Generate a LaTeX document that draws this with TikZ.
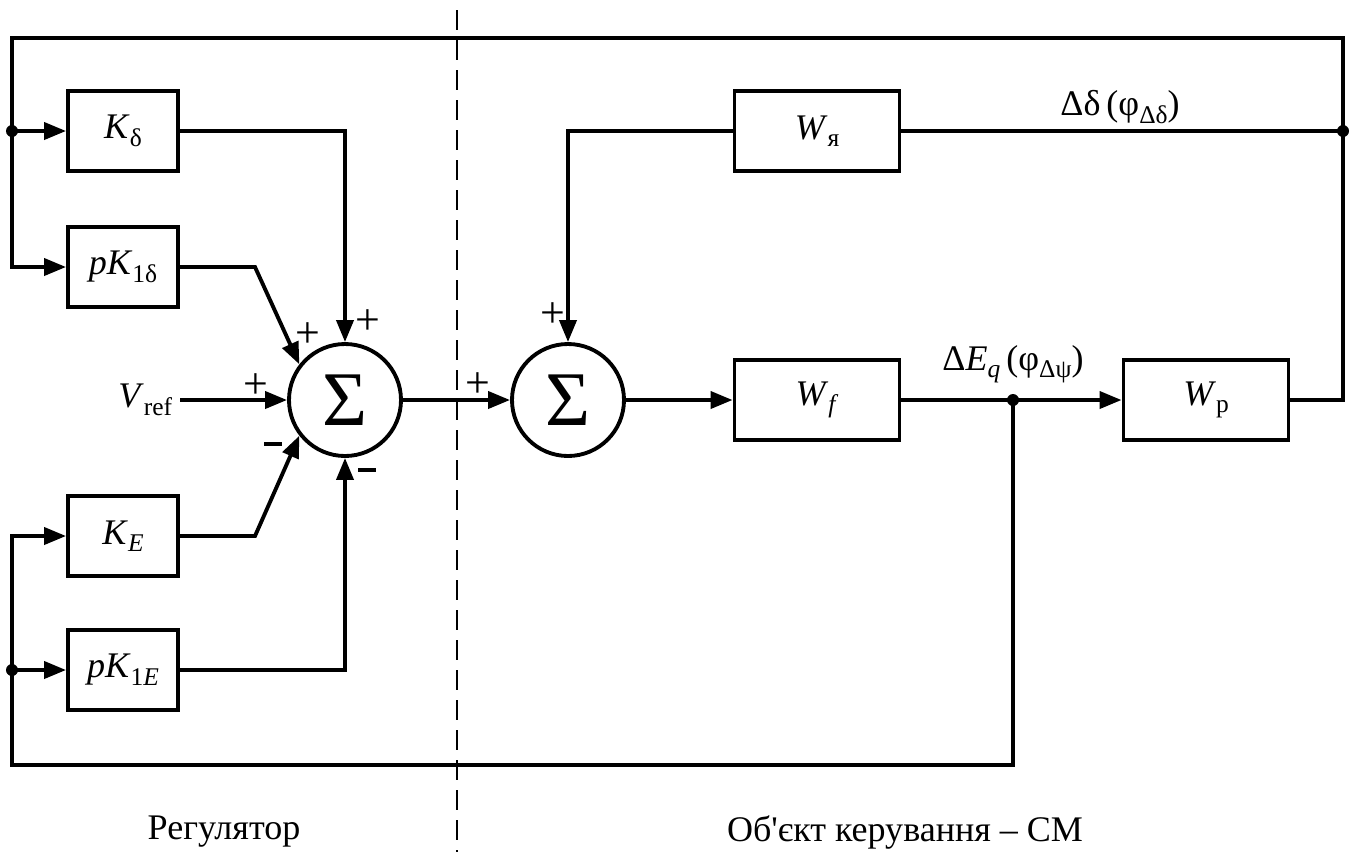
\documentclass[tikz,border=0pt]{standalone}
\usepackage{fontspec}
\setmainfont{Liberation Serif}
\usetikzlibrary{arrows.meta,positioning}
\tikzset{
  block/.style={rectangle, draw, line width=2.2pt, minimum width=22mm, minimum height=16mm,
                inner sep=0pt, font=\fontsize{20.5}{24}\selectfont},
  wideblock/.style={block, minimum width=33mm},
  summer/.style={circle, draw, line width=2.2pt, minimum size=22.4mm, inner sep=0pt,
                 font=\fontsize{44}{44}\selectfont},
  arrow/.style={-{Triangle[length=4.4mm,width=3.4mm]}, line width=2.2pt},
  wire/.style={line width=2.2pt},
  divider/.style={line width=0.9pt, dash pattern=on 4mm off 2mm},
  sign/.style={font=\fontsize{25}{25}\selectfont, inner sep=0pt},
  label/.style={font=\fontsize{20.5}{24}\selectfont, inner sep=0pt},
}
\newcommand{\lo}[1]{\raisebox{-0.45ex}{\fontsize{14.5}{14.5}\selectfont #1}}
\newcommand{\minussign}{\rule{3.6mm}{0.75mm}}

\begin{document}
\begin{tikzpicture}[x=0.2mm, y=-0.2mm]
\useasboundingbox (0,0) rectangle (1355,852);

% ---- Regulator ----
\node[block] (kd) at (123,131) {\textit{K}\lo{δ}};
\node[block] (pkd) at (123,267) {\textit{pK}\lo{1δ}};
\node[block] (ke) at (123,536) {\textit{K}\lo{\textit{E}}};
\node[block] (pke) at (123,670) {\textit{pK}\lo{1\textit{E}}};
\node[summer] (sum1) at (345,400) {Σ};
\node[label, anchor=east, inner sep=1.5mm] (vref) at (180,400) {\textit{V}\lo{ref}};

% ---- Plant ----
\node[summer] (sum2) at (568,400) {Σ};
\node[wideblock] (wya) at (817,131) {\textit{W}\lo{я}};
\node[wideblock] (wf) at (817,400) {\textit{W}\lo{\textit{f}}};
\node[wideblock] (wp) at (1206,400) {\textit{W}\lo{р}};

% ---- Corners and junctions ----
\coordinate (tl) at (12,38);
\coordinate (tr) at (1343,38);
\coordinate (jl) at (12,131);
\coordinate (jd) at (1343,131);
\coordinate (jeq) at (1013,400);
\coordinate (br) at (1013,765);
\coordinate (bl) at (12,765);
\coordinate (jb) at (12,670);
\coordinate (bend1) at (255,267);
\coordinate (bend2) at (255,536);
\coordinate (dtop) at (457,10);
\coordinate (dbot) at (457,852);

% ---- Signs ----
\node[sign] (s1a) at (308,335) {+};
\node[sign] (s1b) at (368,322) {+};
\node[sign] (s1c) at (256,386) {+};
\node[sign] (s1d) at (273,444) {\minussign};
\node[sign] (s1e) at (367,470) {\minussign};
\node[sign] (s2a) at (478,385) {+};
\node[sign] (s2b) at (553,315) {+};

% ---- Labels ----
\node[label] (dd) at (1120,107) {Δδ\,(φ\lo{Δδ})};
\node[label] (deq) at (1013,364) {Δ\textit{E}\lo{\textit{q}}\,(φ\lo{Δψ})};
\node[label] (reg) at (224,832) {Регулятор};
\node[label] (obj) at (905,832) {Об\textquotesingle єкт керування – СМ};

% ---- Connections ----
\draw[arrow] (wp.east) -| (tr) -- (tl) |- (pkd.west);
\draw[arrow] (jl) -- (kd.west);
\draw[wire] (wya.east) -- (jd);
\draw[arrow] (wya.west) -| (sum2.north);
\draw[arrow] (kd.east) -| (sum1.north);
\draw[arrow] (pkd.east) -- (bend1) -- (sum1.142);
\draw[arrow] (ke.east) -- (bend2) -- (sum1.218);
\draw[arrow] (pke.east) -| (sum1.south);
\draw[arrow] (vref.east) -- (sum1.west);
\foreach \a/\b in {sum1/sum2, sum2/wf, wf/wp}
  \draw[arrow] (\a.east) -- (\b.west);
\draw[arrow] (jeq) -- (br) -- (bl) |- (ke.west);
\draw[arrow] (jb) -- (pke.west);
\foreach \p in {jl, jd, jeq, jb}
  \fill (\p) circle[radius=1.2mm];
\draw[divider] (dtop) -- (dbot);
\end{tikzpicture}
\end{document}
